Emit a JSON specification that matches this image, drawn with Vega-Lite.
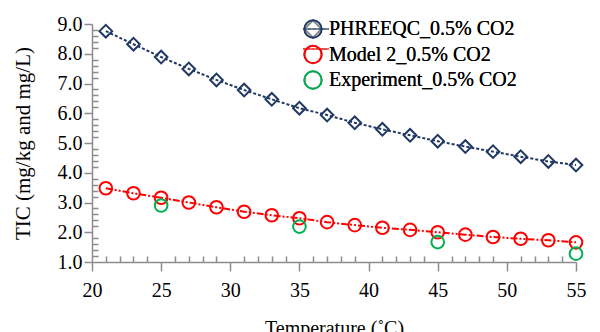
{
  "$schema": "https://vega.github.io/schema/vega-lite/v6.json",
  "width": 484,
  "height": 238,
  "autosize": {"type": "none"},
  "padding": {"left": 92, "top": 24, "right": 24, "bottom": 70},
  "background": "white",
  "config": {"view": {"stroke": null}, "font": "Liberation Serif"},
  "data": {"values": [
    {"T": 21, "TIC": 8.76, "series": "PHREEQC_0.5% CO2"},
    {"T": 23, "TIC": 8.32, "series": "PHREEQC_0.5% CO2"},
    {"T": 25, "TIC": 7.89, "series": "PHREEQC_0.5% CO2"},
    {"T": 27, "TIC": 7.49, "series": "PHREEQC_0.5% CO2"},
    {"T": 29, "TIC": 7.12, "series": "PHREEQC_0.5% CO2"},
    {"T": 31, "TIC": 6.78, "series": "PHREEQC_0.5% CO2"},
    {"T": 33, "TIC": 6.47, "series": "PHREEQC_0.5% CO2"},
    {"T": 35, "TIC": 6.17, "series": "PHREEQC_0.5% CO2"},
    {"T": 37, "TIC": 5.94, "series": "PHREEQC_0.5% CO2"},
    {"T": 39, "TIC": 5.68, "series": "PHREEQC_0.5% CO2"},
    {"T": 41, "TIC": 5.46, "series": "PHREEQC_0.5% CO2"},
    {"T": 43, "TIC": 5.26, "series": "PHREEQC_0.5% CO2"},
    {"T": 45, "TIC": 5.06, "series": "PHREEQC_0.5% CO2"},
    {"T": 47, "TIC": 4.88, "series": "PHREEQC_0.5% CO2"},
    {"T": 49, "TIC": 4.71, "series": "PHREEQC_0.5% CO2"},
    {"T": 51, "TIC": 4.54, "series": "PHREEQC_0.5% CO2"},
    {"T": 53, "TIC": 4.38, "series": "PHREEQC_0.5% CO2"},
    {"T": 55, "TIC": 4.26, "series": "PHREEQC_0.5% CO2"},
    {"T": 21, "TIC": 3.48, "series": "Model 2_0.5% CO2"},
    {"T": 23, "TIC": 3.31, "series": "Model 2_0.5% CO2"},
    {"T": 25, "TIC": 3.16, "series": "Model 2_0.5% CO2"},
    {"T": 27, "TIC": 3.0, "series": "Model 2_0.5% CO2"},
    {"T": 29, "TIC": 2.84, "series": "Model 2_0.5% CO2"},
    {"T": 31, "TIC": 2.69, "series": "Model 2_0.5% CO2"},
    {"T": 33, "TIC": 2.57, "series": "Model 2_0.5% CO2"},
    {"T": 35, "TIC": 2.47, "series": "Model 2_0.5% CO2"},
    {"T": 37, "TIC": 2.34, "series": "Model 2_0.5% CO2"},
    {"T": 39, "TIC": 2.24, "series": "Model 2_0.5% CO2"},
    {"T": 41, "TIC": 2.15, "series": "Model 2_0.5% CO2"},
    {"T": 43, "TIC": 2.08, "series": "Model 2_0.5% CO2"},
    {"T": 45, "TIC": 2.0, "series": "Model 2_0.5% CO2"},
    {"T": 47, "TIC": 1.92, "series": "Model 2_0.5% CO2"},
    {"T": 49, "TIC": 1.84, "series": "Model 2_0.5% CO2"},
    {"T": 51, "TIC": 1.78, "series": "Model 2_0.5% CO2"},
    {"T": 53, "TIC": 1.73, "series": "Model 2_0.5% CO2"},
    {"T": 55, "TIC": 1.66, "series": "Model 2_0.5% CO2"},
    {"T": 25, "TIC": 2.9, "series": "Experiment_0.5% CO2"},
    {"T": 35, "TIC": 2.19, "series": "Experiment_0.5% CO2"},
    {"T": 45, "TIC": 1.67, "series": "Experiment_0.5% CO2"},
    {"T": 55, "TIC": 1.28, "series": "Experiment_0.5% CO2"}
  ]},
  "encoding": {
    "x": {
      "field": "T", "type": "quantitative",
      "scale": {"domain": [20, 55], "nice": false, "zero": false},
      "axis": {
        "values": [20,21,22,23,24,25,26,27,28,29,30,31,32,33,34,35,36,37,38,39,40,41,42,43,44,45,46,47,48,49,50,51,52,53,54,55],
        "labelExpr": "datum.value % 5 === 0 ? datum.label : ''",
        "tickSize": {"condition": {"test": "datum.value % 5 === 0", "value": 9}, "value": -6},
        "labelFlush": false, "labelOverlap": false, "grid": false,
        "domainColor": "#8c8c8c", "tickColor": "#8c8c8c", "domainWidth": 1.5, "tickWidth": 1.5,
        "labelFont": "Liberation Serif", "labelFontSize": 20, "labelColor": "#000", "labelPadding": 9,
        "title": "Temperature (˚C)", "titleFont": "Liberation Serif", "titleFontSize": 20, "titleFontWeight": "normal", "titleColor": "#000", "titlePadding": 18
      }
    },
    "y": {
      "field": "TIC", "type": "quantitative",
      "scale": {"domain": [1, 9], "nice": false, "zero": false},
      "axis": {
        "values": [1,1.2,1.4,1.6,1.8,2,2.2,2.4,2.6,2.8,3,3.2,3.4,3.6,3.8,4,4.2,4.4,4.6,4.8,5,5.2,5.4,5.6,5.8,6,6.2,6.4,6.6,6.8,7,7.2,7.4,7.6,7.8,8,8.2,8.4,8.6,8.8,9],
        "labelExpr": "abs(datum.value - round(datum.value)) < 0.01 ? format(datum.value, '.1f') : ''",
        "tickSize": {"condition": {"test": "abs(datum.value - round(datum.value)) < 0.01", "value": 8}, "value": -6},
        "labelOverlap": false, "grid": false,
        "domainColor": "#8c8c8c", "tickColor": "#8c8c8c", "domainWidth": 1.5, "tickWidth": 1.5,
        "labelFont": "Liberation Serif", "labelFontSize": 20, "labelColor": "#000", "labelPadding": 2,
        "title": "TIC (mg/kg and mg/L)", "titleFont": "Liberation Serif", "titleFontSize": 21, "titleFontWeight": "normal", "titleColor": "#000", "titlePadding": 24
      }
    }
  },
  "layer": [
    {
      "transform": [{"filter": "datum.series !== 'Experiment_0.5% CO2'"}],
      "mark": {"type": "line", "strokeWidth": 2},
      "encoding": {
        "color": {
          "field": "series", "type": "nominal",
          "scale": {"domain": ["PHREEQC_0.5% CO2", "Model 2_0.5% CO2"], "range": ["#203864", "#FF0000"]},
          "legend": {"orient": "none", "legendX": 214, "legendY": -5, "title": null, "padding": 0, "symbolType": "M-2.6,0H2.6", "symbolSize": 100, "symbolStrokeWidth": 1.2, "labelFont": "Liberation Serif", "labelFontSize": 20, "labelExpr": "''", "labelColor": "rgba(0,0,0,0)", "labelLimit": 400, "rowPadding": -0.5}
        },
        "strokeDash": {
          "field": "series", "type": "nominal",
          "scale": {"domain": ["PHREEQC_0.5% CO2", "Model 2_0.5% CO2"], "range": [[3, 2], [7, 2, 2, 2, 2, 2]]},
          "legend": {"orient": "none", "legendX": 214, "legendY": -5, "title": null, "padding": 0, "symbolType": "M-2.6,0H2.6", "symbolSize": 100, "symbolStrokeWidth": 1.2, "labelFont": "Liberation Serif", "labelFontSize": 20, "labelExpr": "''", "labelColor": "rgba(0,0,0,0)", "labelLimit": 400, "rowPadding": -0.5}
        }
      }
    },
    {
      "mark": {"type": "point", "filled": false, "strokeWidth": 2, "size": 160, "opacity": 1},
      "encoding": {
        "color": {
          "field": "series", "type": "nominal",
          "scale": {"domain": ["PHREEQC_0.5% CO2", "Model 2_0.5% CO2", "Experiment_0.5% CO2"], "range": ["#203864", "#FF0000", "#00B050"]},
          "legend": {"orient": "none", "legendX": 211, "legendY": -5, "title": null, "padding": 0, "symbolSize": 300, "symbolStrokeWidth": 2, "labelFont": "Liberation Serif", "labelFontSize": 20, "labelColor": "#000", "labelOffset": 6, "labelLimit": 400, "rowPadding": -0.5}
        },
        "shape": {
          "field": "series", "type": "nominal",
          "scale": {"domain": ["PHREEQC_0.5% CO2", "Model 2_0.5% CO2", "Experiment_0.5% CO2"], "range": ["diamond", "circle", "circle"]},
          "legend": {"orient": "none", "legendX": 211, "legendY": -5, "title": null, "padding": 0, "symbolSize": 300, "symbolStrokeWidth": 2, "labelFont": "Liberation Serif", "labelFontSize": 20, "labelColor": "#000", "labelOffset": 6, "labelLimit": 400, "rowPadding": -0.5}
        }
      }
    }
  ],
  "resolve": {"scale": {"color": "independent"}, "legend": {"color": "independent"}}
}
